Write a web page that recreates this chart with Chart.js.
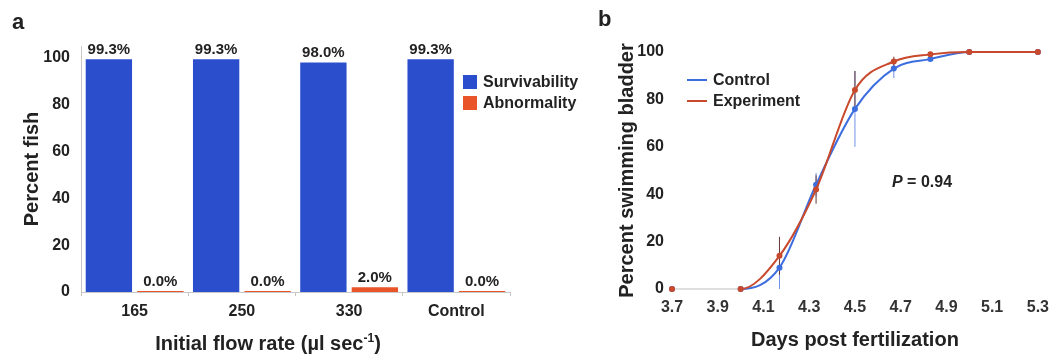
<!DOCTYPE html>
<html>
<head>
<meta charset="utf-8">
<script src="https://cdn.jsdelivr.net/npm/chart.js@4.4.0/dist/chart.umd.min.js"></script>
<style>
  body { margin: 0; background: #fff; width: 1058px; height: 356px; position: relative; overflow: hidden;
         font-family: "Liberation Sans", Arial, sans-serif; color: #222; }
  #wrapA { position: absolute; left: 0; top: 0; width: 590px; height: 356px; }
  #wrapB { position: absolute; left: 590px; top: 0; width: 468px; height: 356px; }
  .txt { position: absolute; font-weight: bold; white-space: nowrap; }
  sup { font-size: 12px; line-height: 0; }
</style>
</head>
<body>
<div id="wrapA"><canvas id="chartA"></canvas></div>
<div id="wrapB"><canvas id="chartB"></canvas></div>
<div class="txt" style="left:12px;top:11px;font-size:22px;line-height:22px">a</div>
<div class="txt" style="left:598px;top:8px;font-size:22px;line-height:22px">b</div>
<div class="txt" style="left:268px;top:333px;font-size:20px;line-height:20px;transform:translateX(-50%)">Initial flow rate (µl sec<sup>-1</sup>)</div>
<div class="txt" style="left:892px;top:174px;font-size:16px;line-height:16px"><i>P</i> = 0.94</div>

<script>
// panel a
const flowRates = ['165', '250', '330', 'Control'];
const survivability = [99.3, 99.3, 98.0, 99.3];
const abnormality = [0.0, 0.0, 2.0, 0.0];
const percentTicks = [0, 20, 40, 60, 80, 100];

// panel b
const days = [3.7, 4.0, 4.17, 4.33, 4.5, 4.67, 4.83, 5.0, 5.3];
const controlPct = [0, 0, 9, 44, 76, 93, 97, 100, 100];
const controlErr = [0, 0, 13, 5, 16, 4, 1, 0, 0];
const experimentPct = [0, 0, 14, 42, 84, 96, 99, 100, 100];
const experimentErr = [0, 0, 8, 6, 8, 2, 1, 0, 0];
const dayTicks = [3.7, 3.9, 4.1, 4.3, 4.5, 4.7, 4.9, 5.1, 5.3];

const FONT = '"Liberation Sans", Arial, sans-serif';
Chart.defaults.font.family = FONT;
Chart.defaults.color = '#222';

const BLUE = '#2b4fcc';
const ORANGE = '#e95428';
const LINE_BLUE = '#3d6ee0';
const LINE_RED = '#c9492c';

// value labels above bars
const valueLabels = {
    id: 'valueLabels',
    afterDatasetsDraw(chart) {
        const ctx = chart.ctx;
        ctx.save();
        ctx.font = 'bold 15px ' + FONT;
        ctx.fillStyle = '#222';
        ctx.textAlign = 'center';
        ctx.textBaseline = 'bottom';
        chart.data.datasets.forEach((ds, i) => {
            chart.getDatasetMeta(i).data.forEach((bar, j) => {
                ctx.fillText(ds.data[j].toFixed(1) + '%', bar.x, bar.y - 2);
            });
        });
        ctx.restore();
    }
};

// legend of panel a, boxes + labels
const legendA = {
    id: 'legendA',
    afterDraw(chart) {
        const ctx = chart.ctx;
        ctx.save();
        ctx.font = 'bold 16px ' + FONT;
        ctx.textBaseline = 'middle';
        chart.data.datasets.forEach((ds, i) => {
            const y = 82 + i * 21;
            ctx.fillStyle = ds.backgroundColor;
            ctx.fillRect(463, y - 7, 14, 14);
            ctx.fillStyle = '#222';
            ctx.fillText(ds.label, 483, y + 1);
        });
        ctx.restore();
    }
};

new Chart(document.getElementById('chartA'), {
    type: 'bar',
    data: {
        labels: flowRates,
        datasets: [
            { label: 'Survivability', data: survivability, backgroundColor: BLUE },
            { label: 'Abnormality', data: abnormality, backgroundColor: ORANGE, minBarLength: 1 }
        ]
    },
    options: {
        responsive: true,
        maintainAspectRatio: false,
        animation: false,
        categoryPercentage: 0.96,
        barPercentage: 0.9,
        layout: { padding: { top: 46, right: 80, left: 0, bottom: 0 } },
        plugins: { legend: { display: false }, tooltip: { enabled: false } },
        scales: {
            x: {
                grid: { display: true, drawOnChartArea: false, tickLength: 4, color: '#c8c8c8' },
                border: { color: '#c8c8c8' },
                ticks: { font: { size: 16, weight: 'bold' }, color: '#222', padding: 6, maxRotation: 0 },
                afterFit: s => { s.height = 64; }
            },
            y: {
                min: 0,
                max: 105,
                afterBuildTicks: s => { s.ticks = percentTicks.map(v => ({ value: v })); },
                grid: { display: false, drawTicks: false },
                border: { display: true, color: '#c8c8c8' },
                ticks: { font: { size: 16, weight: 'bold' }, color: '#222', padding: 11 },
                title: { display: true, text: 'Percent fish', font: { size: 20, weight: 'bold' }, color: '#222', padding: { top: 20, bottom: 0 } },
                afterFit: s => { s.width = 81; }
            }
        }
    },
    plugins: [valueLabels, legendA]
});

// vertical error bars for panel b
const errorBars = {
    id: 'errorBars',
    beforeDatasetsDraw(chart) {
        const { ctx, scales: { x, y } } = chart;
        ctx.save();
        ctx.lineWidth = 1;
        chart.data.datasets.forEach(ds => {
            ctx.strokeStyle = ds.errorColor;
            ds.values.forEach((v, j) => {
                const e = ds.errors[j];
                if (!e) return;
                const px = x.getPixelForValue(days[j]);
                ctx.beginPath();
                ctx.moveTo(px, y.getPixelForValue(Math.max(0, v - e)));
                ctx.lineTo(px, y.getPixelForValue(Math.min(100, v + e)));
                ctx.stroke();
            });
        });
        ctx.restore();
    }
};

// legend of panel b, line samples + labels
const legendB = {
    id: 'legendB',
    afterDraw(chart) {
        const ctx = chart.ctx;
        ctx.save();
        ctx.font = 'bold 16px ' + FONT;
        ctx.textBaseline = 'middle';
        chart.data.datasets.forEach((ds, i) => {
            const y = 80 + i * 21;
            ctx.strokeStyle = ds.borderColor;
            ctx.lineWidth = 2;
            ctx.beginPath();
            ctx.moveTo(97, y);
            ctx.lineTo(117, y);
            ctx.stroke();
            ctx.fillStyle = '#222';
            ctx.fillText(ds.label, 123, y + 1);
        });
        ctx.restore();
    }
};

function lineSet(label, values, errors, color, errColor, order) {
    return {
        label: label,
        data: days.map((d, i) => ({ x: d, y: values[i] })),
        values: values,
        errors: errors,
        errorColor: errColor,
        borderColor: color,
        backgroundColor: color,
        borderWidth: 2,
        pointRadius: 3,
        pointBorderWidth: 0,
        cubicInterpolationMode: 'monotone',
        clip: false,
        order: order,
        segment: {
            borderColor: c => c.p0DataIndex === 0 ? 'rgba(200,200,200,0.35)' : color
        }
    };
}

new Chart(document.getElementById('chartB'), {
    type: 'line',
    data: {
        datasets: [
            lineSet('Control', controlPct, controlErr, LINE_BLUE, '#6f90e6', 1),
            lineSet('Experiment', experimentPct, experimentErr, LINE_RED, '#6b3a33', 0)
        ]
    },
    options: {
        responsive: true,
        maintainAspectRatio: false,
        animation: false,
        layout: { padding: { top: 52, right: 20, left: 0, bottom: 0 } },
        plugins: { legend: { display: false }, tooltip: { enabled: false } },
        scales: {
            x: {
                type: 'linear',
                min: 3.7,
                max: 5.3,
                afterBuildTicks: s => { s.ticks = dayTicks.map(v => ({ value: v })); },
                grid: { display: false, drawTicks: false },
                border: { display: false },
                ticks: { font: { size: 16, weight: 'bold' }, color: '#333', padding: 9, maxRotation: 0, callback: v => v.toFixed(1) },
                title: { display: true, text: 'Days post fertilization', font: { size: 20, weight: 'bold' }, color: '#222', padding: { top: 0, bottom: 4 } },
                afterFit: s => { s.height = 67; }
            },
            y: {
                min: 0,
                max: 100,
                afterBuildTicks: s => { s.ticks = percentTicks.map(v => ({ value: v })); },
                grid: { display: false, drawTicks: false },
                border: { display: false },
                ticks: { font: { size: 16, weight: 'bold' }, color: '#222', padding: 8 },
                title: { display: true, text: 'Percent swimming bladder', font: { size: 20, weight: 'bold' }, color: '#222', padding: { top: 25, bottom: 0 } },
                afterFit: s => { s.width = 82; }
            }
        }
    },
    plugins: [errorBars, legendB]
});
</script>
</body>
</html>
